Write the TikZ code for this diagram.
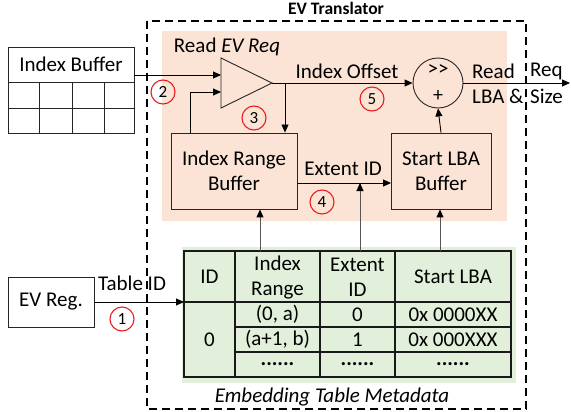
\documentclass[tikz,border=0pt]{standalone}
\usepackage{fontspec}
\setmainfont{Carlito}
\usetikzlibrary{arrows.meta,calc}
\definecolor{peach}{RGB}{251,228,213}
\definecolor{mint}{RGB}{226,239,218}
\definecolor{ring}{RGB}{232,30,30}
\definecolor{wire}{RGB}{85,85,85}
\begin{document}
\begin{tikzpicture}[x=1pt,y=1pt,
  every node/.style={font=\fontsize{21}{25}\selectfont, inner sep=0pt, align=center},
  blk/.style={draw=black!85, line width=0.9pt, fill=peach, align=center},
  plainbox/.style={draw=black!85, line width=0.9pt, fill=white},
  arr/.style={-{Triangle[length=8pt,width=7pt]}, line width=0.9pt},
  grayarr/.style={draw=wire, line width=1pt, -{Triangle[length=8pt,width=7pt,color=black]}},
  stepnum/.style={circle, draw=ring, line width=1.1pt, minimum size=24pt, font=\fontsize{17}{19}\selectfont},
  tline/.style={line width=1.3pt, draw=black!90},
]
\useasboundingbox (0,0) rectangle (571,-412);

% translator frame and backgrounds
\fill[peach] (162,-31) rectangle (507,-221);
\fill[mint] (182,-247) rectangle (516,-383);
\draw[dash pattern=on 8pt off 5pt, line width=1.1pt] (147,-21) rectangle (526,-409);
\node[font=\bfseries\fontsize{17.5}{20}\selectfont] (title) at (336,-8) {EV Translator};

% index buffer
\node[plainbox, minimum width=126pt, minimum height=35pt] (ib) at (71,-64.5) {Index Buffer};
\draw[line width=0.9pt, draw=black!85] (8,-82) rectangle (134,-133);
\draw[line width=0.9pt, draw=black!85] (8,-108) -- (134,-108)
  (39,-82) -- (39,-133) (72,-82) -- (72,-133) (104,-82) -- (104,-133);
\coordinate (ibout) at (134,-75);

% comparator
\draw[line width=0.9pt, draw=black!85] (221,-58) -- (272,-83) -- (221,-108) -- cycle;
\coordinate (triA) at (221,-75);
\coordinate (triB) at (221,-92);
\coordinate (triO) at (272,-83);
\node (rdlbl) at (227,-47) {Read \textit{EV Req}};

% buffers
\node[blk, minimum width=126pt, minimum height=76pt] (irb) at (234,-171) {Index Range\\Buffer};
\node[blk, minimum width=100pt, minimum height=76pt] (slb) at (441,-171) {Start LBA\\Buffer};

% shift-add unit
\node[circle, draw=black!85, line width=0.9pt, minimum size=50pt] (sum) at (438,-83) {};
\node[font=\fontsize{21}{22}\selectfont] (shr) at (438,-70) {{>}{>}};
\node[font=\fontsize{20}{22}\selectfont] (plus) at (438,-96) {+};

% connectors inside translator
\draw[arr] (ibout) -- (triA);
\coordinate (fb) at (190,-133);
\draw[arr] (fb) |- (triB);
\draw[arr] (triO) -- (sum.west);
\coordinate (tap) at (285,-83);
\draw[arr] (tap) -- (irb.north -| tap);
\node (offlbl) at (347,-71) {Index Offset};
\coordinate (eidout) at (297,-183);
\coordinate (eidin) at (391,-183);
\draw[arr] (eidout) -- (eidin);
\node (eidlbl) at (343,-169) {Extent ID};
\draw[arr] (slb.north) -- (sum.south);
\coordinate (out) at (570,-83);
\draw[arr] (sum.east) -- (out);
\node[anchor=west] (o1) at (472,-71) {Read};
\node[anchor=west] (o2) at (472,-96) {LBA \&};
\node[anchor=west] (o3) at (530,-71) {Req};
\node[anchor=west] (o4) at (530,-96) {Size};

% metadata table
\draw[tline] (184,-251) rectangle (511,-377);
\draw[tline] (235,-251) -- (235,-377) (320,-251) -- (320,-377) (395,-251) -- (395,-377)
  (184,-302) -- (511,-302) (235,-327) -- (511,-327) (235,-352) -- (511,-352);
\node (hID) at (209.5,-276.5) {ID};
\node (hIR) at (277.5,-277.5) {Index\\Range};
\node (hEID) at (357.5,-277.5) {Extent\\ID};
\node (hSL) at (453,-276.5) {Start LBA};
\node (c0) at (209.5,-339.5) {0};
\node (r1a) at (277.5,-314.5) {(0, a)};
\node (r1b) at (357.5,-314.5) {0};
\node (r1c) at (453,-314.5) {0x 0000XX};
\node (r2a) at (277.5,-339.5) {(a+1, b)};
\node (r2b) at (357.5,-339.5) {1};
\node (r2c) at (453,-339.5) {0x 000XXX};
\node (r3a) at (277.5,-364) {\textbf{......}};
\node (r3b) at (357.5,-364) {\textbf{......}};
\node (r3c) at (453,-364) {\textbf{......}};
\node[font=\itshape\fontsize{21}{25}\selectfont] (tcap) at (332,-397) {Embedding Table Metadata};

\coordinate (tIR) at (260,-251);
\coordinate (tEID) at (360,-251);
\coordinate (tSL) at (440,-251);
\coordinate (tin) at (184,-302);
\draw[grayarr] (tIR) -- (irb.south -| tIR);
\draw[grayarr] (tEID) -- (eidout -| tEID);
\draw[grayarr] (tSL) -- (slb.south -| tSL);

% EV register
\node[plainbox, minimum width=86pt, minimum height=50pt] (evr) at (51,-302) {EV Reg.};
\draw[arr] (evr.east) -- (tin);
\node (tidlbl) at (132,-283) {Table ID};

% step markers
\node[stepnum] (s1) at (122,-319) {1};
\node[stepnum] (s2) at (163,-92) {2};
\node[stepnum] (s3) at (254,-118) {3};
\node[stepnum] (s4) at (322,-202) {4};
\node[stepnum] (s5) at (372,-99) {5};
\end{tikzpicture}
\end{document}
